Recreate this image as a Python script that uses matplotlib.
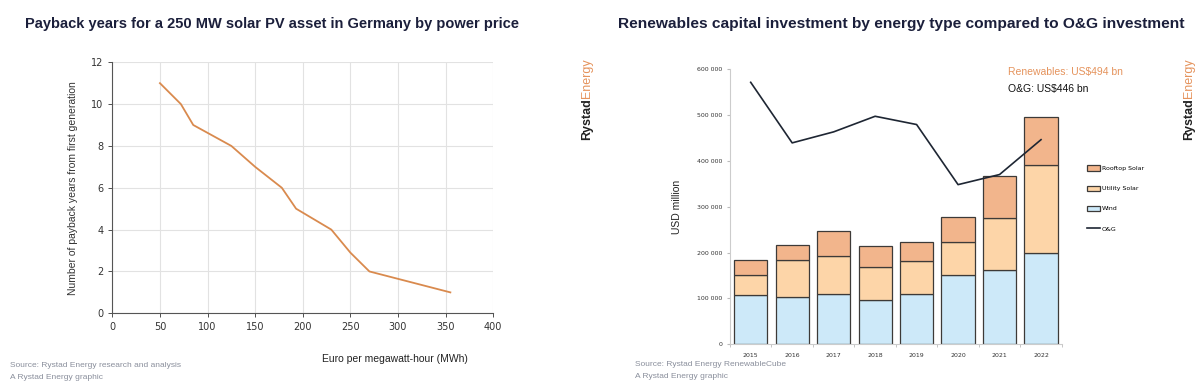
import matplotlib.pyplot as plt
import numpy as np

# left chart data
price = [50, 72, 85, 125, 150, 178, 193, 230, 250, 270, 355]
payback = [11, 10, 9, 8, 7, 6, 5, 4, 2.9, 2, 1]

# right chart data
years = ['2015', '2016', '2017', '2018', '2019', '2020', '2021', '2022']
wind = [107000, 104000, 110000, 96000, 110000, 152000, 161000, 200000]
utility_solar = [43000, 80000, 83000, 73000, 72000, 72000, 115000, 190000]
rooftop_solar = [34000, 33000, 53000, 45000, 40000, 54000, 91000, 105000]
oil_gas = [571000, 439000, 463000, 497000, 479000, 348000, 370000, 446000]

navy = '#1b1f3b'
orange = '#e5935c'
grey_txt = '#8a8f9c'
sans = ['Liberation Sans', 'DejaVu Sans']

fig = plt.figure(figsize=(12, 3.89), dpi=100)
fig.patch.set_facecolor('white')
renderer = fig.canvas.get_renderer()


def fit_width(txt, width_px):
    # shrink/grow the font so the text spans width_px
    ext = txt.get_window_extent(renderer)
    txt.set_fontsize(txt.get_fontsize() * width_px / ext.width)


# ---------------- left chart
ax1 = fig.add_axes([0.0936, 0.1946, 0.3174, 0.6454])
ax1.plot(price, payback, color='#d98a4e', lw=1.3)
ax1.set_xlim(0, 400)
ax1.set_ylim(0, 12)
ax1.set_xticks(np.arange(0, 401, 50))
ax1.set_yticks(np.arange(0, 13, 2))
ax1.grid(True, color='#e2e2e2', lw=0.8)
ax1.set_axisbelow(True)
for s in ['top', 'right']:
    ax1.spines[s].set_visible(False)
for s in ['left', 'bottom']:
    ax1.spines[s].set_color('#555555')
    ax1.spines[s].set_linewidth(0.8)
ax1.tick_params(labelsize=7, colors='#333333', length=3, width=0.6)
ax1.set_ylabel('Number of payback years from first generation', fontsize=7.5,
               color='#333333', labelpad=9, family=sans)

t_left = fig.text(0.0208, 0.938, 'Payback years for a 250 MW solar PV asset in Germany by power price',
                  fontsize=15, fontweight='bold', color=navy, family=sans, va='center')
fit_width(t_left, 493)
fig.text(0.268, 0.077, 'Euro per megawatt-hour (MWh)', fontsize=7.5, color='#222222',
         va='center', family=sans)
fig.text(0.008, 0.06, 'Source: Rystad Energy research and analysis', fontsize=6, color=grey_txt,
         va='center', family=sans)
fig.text(0.008, 0.03, 'A Rystad Energy graphic', fontsize=6, color=grey_txt, va='center', family=sans)

# ---------------- right chart
ax2 = fig.add_axes([0.6083, 0.1149, 0.2765, 0.7077])
x = np.arange(len(years))
w = 0.8
ec = '#3d3a38'
b1 = ax2.bar(x, wind, w, color='#cde9f9', edgecolor=ec, lw=0.9, label='Wind')
b2 = ax2.bar(x, utility_solar, w, bottom=wind, color='#fdd5a8', edgecolor=ec, lw=0.9,
             label='Utility Solar')
bottom2 = np.array(wind) + np.array(utility_solar)
b3 = ax2.bar(x, rooftop_solar, w, bottom=bottom2, color='#f2b58c', edgecolor=ec, lw=0.9,
             label='Rooftop Solar')
l1, = ax2.plot(x, oil_gas, color='#1e2633', lw=1.2, label='O&G')
ax2.set_xlim(-0.5, 7.5)
ax2.set_ylim(0, 600000)
ax2.set_yticks(np.arange(0, 600001, 100000))
ax2.set_yticklabels(['0', '100 000', '200 000', '300 000', '400 000', '500 000', '600 000'])
ax2.set_xticks(x)
ax2.set_xticklabels(years)
ax2.set_xticks(np.arange(-0.5, 8, 1), minor=True)
ax2.tick_params(axis='x', which='major', length=0, labelsize=4.5, colors='#333333', pad=6)
ax2.tick_params(axis='x', which='minor', length=2, color='#bbbbbb')
ax2.tick_params(axis='y', labelsize=4.5, colors='#333333', length=2, color='#bbbbbb')
for s in ['top', 'right']:
    ax2.spines[s].set_visible(False)
for s in ['left', 'bottom']:
    ax2.spines[s].set_color('#cccccc')
    ax2.spines[s].set_linewidth(0.8)
ax2.set_ylabel('USD million', fontsize=7.5, color='#222222', labelpad=11, family=sans)

ax2.legend(handles=[b3, b2, b1, l1], loc='upper left', bbox_to_anchor=(1.06, 0.67),
           frameon=False, fontsize=4.5, labelspacing=2.3, handlelength=2.0,
           handleheight=0.9, handletextpad=0.3)

t_r = fig.text(0.84, 0.815, 'Renewables: US$494 bn', fontsize=7.5, color=orange, va='center', family=sans)
t_o = fig.text(0.84, 0.77, 'O&G: US$446 bn', fontsize=7.5, color='#111111',
               va='center', family=sans)

t_right = fig.text(0.9875, 0.938, 'Renewables capital investment by energy type compared to O&G investment',
                   fontsize=15, fontweight='bold', color=navy, family=sans, va='center', ha='right')
fit_width(t_right, 568)
fig.text(0.529, 0.064, 'Source: Rystad Energy RenewableCube', fontsize=6, color=grey_txt,
         va='center', family=sans)
fig.text(0.529, 0.033, 'A Rystad Energy graphic', fontsize=6, color=grey_txt, va='center', family=sans)

# vertical logos
for xpos in [0.489, 0.991]:
    y0 = 1 - 140 / 389
    t1 = fig.text(xpos, y0, 'Rystad', fontsize=9, fontweight='bold', color='#222222',
                  rotation=90, ha='center', va='bottom', family=sans)
    h = t1.get_window_extent(renderer).height / fig.bbox.height
    fig.text(xpos, y0 + h, 'Energy', fontsize=9, color=orange,
             rotation=90, ha='center', va='bottom', family=sans)

fig.savefig('out.png', dpi=100, facecolor='white')
